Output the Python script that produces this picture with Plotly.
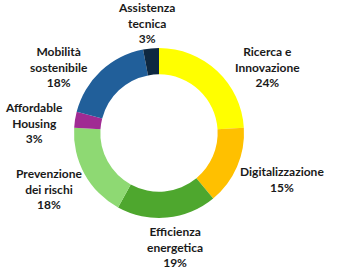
import math
import plotly.graph_objects as go

labels = ["Ricerca e Innovazione", "Digitalizzazione", "Efficienza energetica",
          "Prevenzione dei rischi", "Affordable Housing", "Mobilità sostenibile",
          "Assistenza tecnica"]
display = ["Ricerca e<br>Innovazione", "Digitalizzazione", "Efficienza<br>energetica",
           "Prevenzione<br>dei rischi", "Affordable<br>Housing", "Mobilità<br>sostenibile",
           "Assistenza<br>tecnica"]
values = [24, 15, 19, 18, 3, 18, 3]
colors = ["#FFFF00", "#FFC000", "#4EA72E", "#8ED973", "#A02B93", "#215F9A", "#0E2841"]

W, H = 341, 278
cx, cy, R = 159, 133, 85
LCX, LCY, RX, RY = 163, 135, 130, 113  # label ellipse (px)
SPREAD = 10  # degrees: push upper labels sideways, away from the top label

fig = go.Figure(go.Pie(
    labels=labels, values=values,
    hole=0.69, sort=False, direction="clockwise", rotation=0,
    marker=dict(colors=colors, line=dict(width=0)),
    textinfo="none", hoverinfo="label+percent",
    showlegend=False,
    domain=dict(x=[(cx - R) / W, (cx + R) / W], y=[1 - (cy + R) / H, 1 - (cy - R) / H]),
))

total = sum(values)
cum = 0
for txt, v in zip(display, values):
    mid = (cum + v / 2) / total * 2 * math.pi
    cum += v
    if math.cos(mid) > 0:
        mid += math.radians(SPREAD) * math.sin(2 * mid)
    px = LCX + RX * math.sin(mid)
    py = LCY - RY * math.cos(mid)
    fig.add_annotation(
        x=px / W, y=1 - py / H, xref="paper", yref="paper",
        text=f"{txt}<br>{round(v / total * 100)}%",
        showarrow=False, xanchor="center", yanchor="middle", align="center",
        font=dict(family="Lato", size=12, color="#1a1a1a", weight="bold"),
    )

fig.update_layout(width=W, height=H, margin=dict(l=0, r=0, t=0, b=0),
                  paper_bgcolor="white", plot_bgcolor="white")
fig.write_html("out.html")
